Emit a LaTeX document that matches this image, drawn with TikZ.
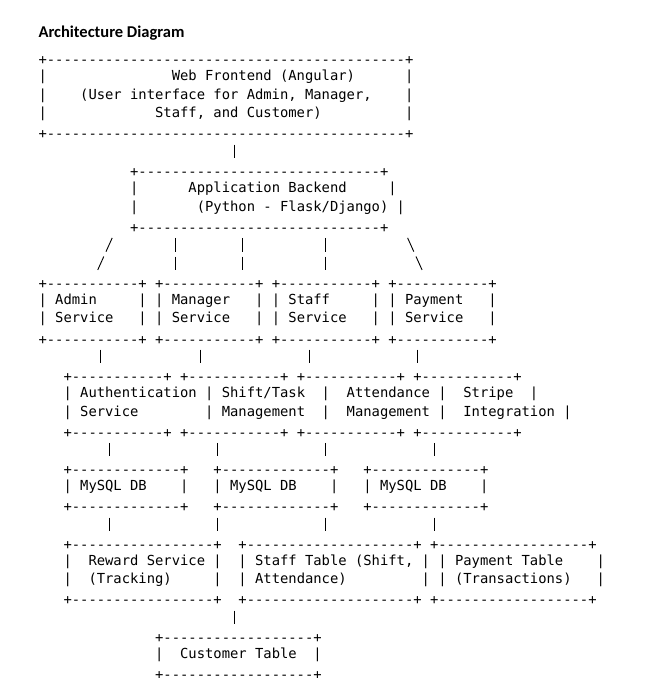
\documentclass[tikz,border=0pt]{standalone}
\usepackage{fontspec}
\setmonofont{DejaVu Sans Mono}
\newfontfamily\headfont{Carlito}

\newlength\cw
\setlength\cw{8.33pt}
\newcommand\sk[1]{\hspace*{#1\cw}}
\newcommand\rim[1]{\raisebox{-2.5pt}{+\foreach \i in {1,...,#1}{-}+}}
\newcommand\asciibox[1]{\begin{tabular}{@{}l@{}}#1\end{tabular}}

\tikzset{
	panel/.style={inner sep=0pt, anchor=north west,
		font=\ttfamily\fontsize{13.836pt}{18.64pt}\selectfont\frenchspacing},
	link/.style={line width=0.9pt, dash pattern=on 13.8pt off 4.84pt,
		shorten <=2.42pt, shorten >=2.42pt},
	slash/.style={link, dash pattern=on 15.1pt off 5.3pt,
		shorten <=2.65pt, shorten >=2.65pt}
}

\begin{document}
\begin{tikzpicture}[x=8.33pt, y=-18.64pt]
				\useasboundingbox (-38.33pt,48.68pt) rectangle (609.67pt,-629.32pt);
				\node[anchor=base west, inner sep=0pt, font=\headfont\bfseries\fontsize{16.5pt}{18pt}\selectfont] (title) at (0pt,11pt) {Architecture Diagram};
				\node[panel] (web) at (0,0) {\asciibox{
					\rim{43}\\
					|\sk{15}Web Frontend (Angular)\sk{6}|\\
					|\sk{4}(User interface for Admin, Manager,\sk{4}|\\
					|\sk{13}Staff, and Customer)\sk{10}|\\
					\rim{43}}};
				\node[panel] (backend) at (11,6) {\asciibox{
					\rim{29}\\
					|\sk{6}Application Backend\sk{5}|\\
					|\sk{7}(Python - Flask/Django) |\\
					\rim{29}}};
				\node[panel] (admin) at (0,12) {\asciibox{\rim{11}\\ | Admin\sk{5}|\\ | Service\sk{3}|\\ \rim{11}}};
				\node[panel] (manager) at (14,12) {\asciibox{\rim{11}\\ | Manager\sk{3}|\\ | Service\sk{3}|\\ \rim{11}}};
				\node[panel] (staff) at (28,12) {\asciibox{\rim{11}\\ | Staff\sk{5}|\\ | Service\sk{3}|\\ \rim{11}}};
				\node[panel] (payment) at (42,12) {\asciibox{\rim{11}\\ | Payment\sk{3}|\\ | Service\sk{3}|\\ \rim{11}}};
				\node[panel] (auth) at (3,17) {\asciibox{\rim{11}\\ | Authentication |\\ | Service\sk{8}|\\ \rim{11}}};
				\node[panel] (shifts) at (17,17) {\asciibox{\rim{11}\\ \sk{5}Shift/Task\sk{2}|\\ \sk{5}Management\sk{2}|\\ \rim{11}}};
				\node[panel] (attend) at (31,17) {\asciibox{\rim{11}\\ \sk{6}Attendance |\\ \sk{6}Management |\\ \rim{11}}};
				\node[panel] (stripe) at (45,17) {\asciibox{\rim{11}\\ \sk{6}Stripe\sk{2}|\\ \sk{6}Integration |\\ \rim{11}}};
				\node[panel] (db1) at (3,22) {\asciibox{\rim{13}\\ | MySQL DB\sk{4}|\\ \rim{13}}};
				\node[panel] (db2) at (21,22) {\asciibox{\rim{13}\\ | MySQL DB\sk{4}|\\ \rim{13}}};
				\node[panel] (db3) at (39,22) {\asciibox{\rim{13}\\ | MySQL DB\sk{4}|\\ \rim{13}}};
				\node[panel] (reward) at (3,26) {\asciibox{\rim{17}\\ |\sk{2}Reward Service |\\ |\sk{2}(Tracking)\sk{5}|\\ \rim{17}}};
				\node[panel] (stafftab) at (24,26) {\asciibox{\rim{20}\\ | Staff Table (Shift, |\\ | Attendance)\sk{9}|\\ \rim{20}}};
				\node[panel] (paytab) at (47,26) {\asciibox{\rim{18}\\ \sk{1}| Payment Table\sk{4}|\\ \sk{1}| (Transactions)\sk{3}|\\ \rim{18}}};
				\node[panel] (customer) at (14,31) {\asciibox{\rim{18}\\ |\sk{2}Customer Table\sk{2}|\\ \rim{18}}};
				\draw[link] (web.south -| 23.5,0) -- (backend.north -| 23.5,0);
				\draw[slash] (backend.south -| 9,0) -- (admin.north -| 7,0);
				\draw[link] (backend.south -| 16.5,0) -- (manager.north -| 16.5,0);
				\draw[link] (backend.south -| 24.5,0) -- (manager.north -| 24.5,0);
				\draw[link] (backend.south -| 34.5,0) -- (staff.north -| 34.5,0);
				\draw[slash] (backend.south -| 44.2,0) -- (payment.north -| 46.2,0);
				\draw[link] (admin.south -| 7.5,0) -- (auth.north -| 7.5,0);
				\draw[link] (manager.south -| 19.5,0) -- (shifts.north -| 19.5,0);
				\draw[link] (staff.south -| 32.5,0) -- (attend.north -| 32.5,0);
				\draw[link] (payment.south -| 45.5,0) -- (stripe.north -| 45.5,0);
				\draw[link] (auth.south -| 8.5,0) -- (db1.north -| 8.5,0);
				\draw[link] (shifts.south -| 21.5,0) -- (db2.north -| 21.5,0);
				\draw[link] (attend.south -| 34.5,0) -- (db2.north -| 34.5,0);
				\draw[link] (stripe.south -| 47.5,0) -- (db3.north -| 47.5,0);
				\draw[link] (db1.south -| 8.5,0) -- (reward.north -| 8.5,0);
				\draw[link] (db2.south -| 21.5,0) -- (reward.north -| 21.5,0);
				\draw[link] (db2.south -| 34.5,0) -- (stafftab.north -| 34.5,0);
				\draw[link] (db3.south -| 47.5,0) -- (paytab.north -| 47.5,0);
				\draw[link] (stafftab.south -| 23.5,0) -- (customer.north -| 23.5,0);
			\end{tikzpicture}
\end{document}
